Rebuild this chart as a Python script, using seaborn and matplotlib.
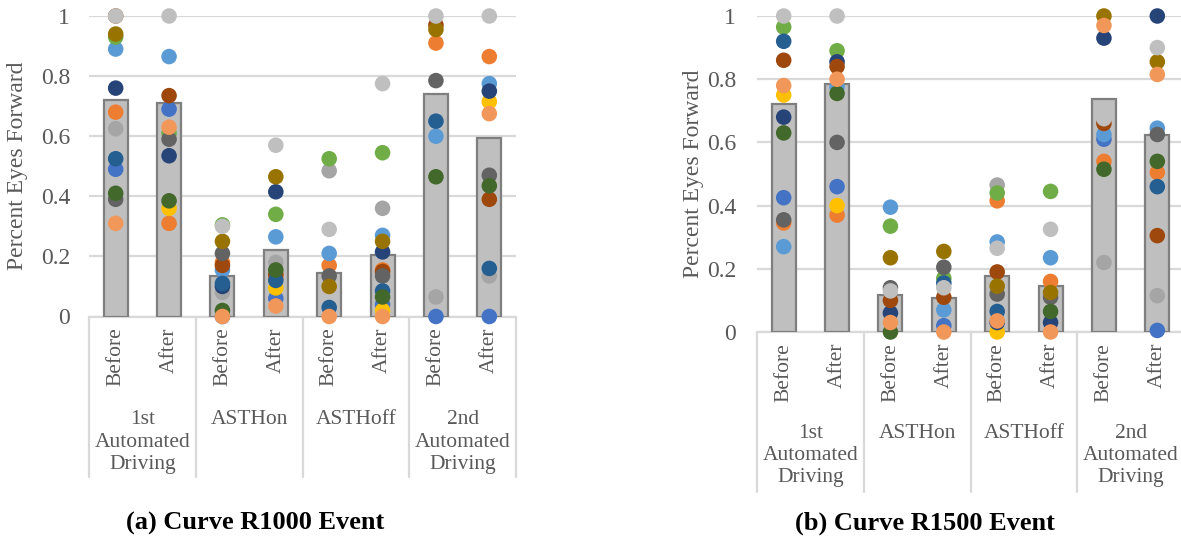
import numpy as np
import pandas as pd
import matplotlib
matplotlib.use("Agg")
import matplotlib.pyplot as plt
import matplotlib.transforms as mtransforms
from matplotlib.lines import Line2D
import seaborn as sns

sns.set_theme(style="white")
plt.rcParams['font.family'] = ['Liberation Serif', 'DejaVu Serif']

nan = np.nan

# ---------------- data ----------------
categories = ["1st_Before", "1st_After", "ASTHon_Before", "ASTHon_After",
              "ASTHoff_Before", "ASTHoff_After", "2nd_Before", "2nd_After"]
phase_labels = ["Before", "After"] * 4
group_labels = ["1st\nAutomated\nDriving", "ASTHon", "ASTHoff", "2nd\nAutomated\nDriving"]

participants = ["P01", "P02", "P03", "P04", "P05", "P06", "P07",
                "P08", "P09", "P10", "P11", "P12", "P13", "P14"]
participant_colors = ["#4472C4", "#ED7D31", "#A5A5A5", "#FFC000", "#5B9BD5", "#70AD47", "#264478",
                      "#9E480E", "#636363", "#997300", "#255E91", "#43682B", "#F1975A", "#BFBFBF"]

# (a) Curve R1000 event: mean bars and individual participants
r1000_bars = [0.72, 0.71, 0.135, 0.22, 0.145, 0.205, 0.74, 0.595]
r1000_1st_before = [0.49, 0.68, 0.625, nan, 0.89, 0.93, 0.76, 1.0, 0.39, 0.94, 0.525, 0.41, 0.31, 1.0]
r1000_1st_after = [0.69, 0.31, nan, 0.36, 0.865, 0.61, 0.535, 0.735, 0.59, nan, nan, 0.385, 0.63, 1.0]
r1000_on_before = [0.0, 0.18, 0.08, nan, 0.155, 0.305, 0.10, 0.17, 0.21, 0.25, 0.11, 0.02, 0.0, 0.30]
r1000_on_after = [0.06, 0.13, 0.18, 0.095, 0.265, 0.34, 0.415, 0.14, nan, 0.465, 0.12, 0.155, 0.035, 0.57]
r1000_off_before = [nan, 0.17, 0.485, nan, 0.21, 0.525, nan, nan, 0.135, 0.10, 0.03, nan, 0.0, 0.29]
r1000_off_after = [0.04, 0.155, 0.36, 0.02, 0.27, 0.545, 0.215, 0.15, 0.135, 0.25, 0.085, 0.065, 0.0, 0.775]
r1000_2nd_before = [0.0, 0.91, 0.065, nan, 0.60, nan, nan, 0.97, 0.785, 0.955, 0.65, 0.465, nan, 1.0]
r1000_2nd_after = [0.0, 0.865, 0.135, 0.715, 0.775, nan, 0.75, 0.39, 0.47, nan, 0.16, 0.435, 0.675, 1.0]

# (b) Curve R1500 event
r1500_bars = [0.72, 0.785, 0.117, 0.107, 0.177, 0.146, 0.737, 0.623]
r1500_1st_before = [0.425, 0.345, nan, 0.75, 0.27, 0.965, 0.68, 0.86, 0.355, nan, 0.92, 0.63, 0.78, 1.0]
r1500_1st_after = [0.46, 0.37, nan, 0.40, 0.775, 0.89, 0.855, 0.84, 0.60, nan, nan, 0.755, 0.80, 1.0]
r1500_on_before = [nan, nan, nan, nan, 0.395, 0.335, 0.06, 0.10, 0.14, 0.235, nan, 0.0, 0.03, 0.13]
r1500_on_after = [0.02, nan, nan, nan, 0.07, 0.17, nan, 0.11, 0.205, 0.255, 0.155, nan, 0.0, 0.14]
r1500_off_before = [nan, 0.415, 0.465, 0.0, 0.285, 0.44, 0.03, 0.19, 0.12, 0.145, 0.065, nan, 0.035, 0.265]
r1500_off_after = [nan, 0.16, nan, nan, 0.235, 0.445, 0.03, nan, 0.11, 0.125, nan, 0.065, 0.0, 0.325]
r1500_2nd_before = [0.61, 0.54, 0.22, nan, 0.625, nan, 0.93, 0.66, nan, 1.0, nan, 0.515, 0.97, 0.675]
r1500_2nd_after = [0.005, 0.505, 0.115, nan, 0.645, nan, 1.0, 0.305, 0.625, 0.855, 0.46, 0.54, 0.815, 0.90]

yticks = [0, 0.2, 0.4, 0.6, 0.8, 1.0]
ytick_labels = ["0", "0.2", "0.4", "0.6", "0.8", "1"]

# ---------------- figure ----------------
W, H = 1181, 542
fig = plt.figure(figsize=(W / 100, H / 100), dpi=100)
TXT = "#595959"
GRID = "#D9D9D9"


def add_axes_px(x0, x1, ytop, ybot):
    return fig.add_axes([x0 / W, 1 - ybot / H, (x1 - x0) / W, (ybot - ytop) / H])


def long_points(arrays):
    rows = []
    for cat, vals in zip(categories, arrays):
        for p, v in zip(participants, vals):
            if not np.isnan(v):
                rows.append({"cat": cat, "participant": p, "value": v})
    return pd.DataFrame(rows)


def draw_panel(ax, bars, arrays, ax_h_px, tick_pad_pt, ylabel_x, label_gap, group_gap):
    df_bar = pd.DataFrame({"cat": categories, "value": bars})
    sns.barplot(data=df_bar, x="cat", y="value", order=categories, color="#BFBFBF",
                saturation=1, edgecolor="#7F7F7F", linewidth=1.6, width=0.45,
                ax=ax, zorder=2)
    df_pts = long_points(arrays)
    sns.stripplot(data=df_pts, x="cat", y="value", order=categories, hue="participant",
                  hue_order=participants, palette=participant_colors, jitter=False,
                  dodge=False, size=11.2, linewidth=0, legend=False, ax=ax,
                  clip_on=False, zorder=3)
    ax.set_xlim(-0.5, 7.5)
    ax.set_ylim(0, 1)
    ax.set_yticks(yticks)
    ax.set_yticklabels(ytick_labels)
    ax.tick_params(axis="y", length=0, pad=tick_pad_pt, labelsize=17, labelcolor=TXT)
    ax.set_xticks([])
    ax.set_xlabel("")
    ax.set_ylabel("Percent Eyes Forward", fontsize=17, color=TXT)
    ax.yaxis.set_label_coords(ylabel_x, 0.5)
    ax.grid(axis="y", color=GRID, linewidth=1.6)
    ax.grid(axis="x", visible=False)
    ax.set_axisbelow(True)
    for s in ax.spines.values():
        s.set_visible(False)

    trans = mtransforms.blended_transform_factory(ax.transData, ax.transAxes)
    depth = 160 / ax_h_px
    ax.add_line(Line2D([-0.5, 7.5], [0, 0], transform=trans, color=GRID, lw=1.6,
                       clip_on=False, zorder=1))
    for xb in [-0.5, 1.5, 3.5, 5.5, 7.5]:
        ax.add_line(Line2D([xb, xb], [0, -depth], transform=trans, color=GRID, lw=1.6,
                           clip_on=False))
    for i, lab in enumerate(phase_labels):
        ax.annotate(lab, xy=(i, 0), xycoords=trans, xytext=(0, -label_gap * 0.72),
                    textcoords="offset points", rotation=90, ha="center", va="top",
                    fontsize=15.5, color=TXT)
    for g, lab in enumerate(group_labels):
        ax.annotate(lab, xy=(2 * g + 0.5, 0), xycoords=trans, xytext=(0, -group_gap * 0.72),
                    textcoords="offset points", ha="center", va="top", multialignment="center",
                    linespacing=1.22, fontsize=15.5, color=TXT)


axL = add_axes_px(89, 516, 16, 316.5)
draw_panel(axL,
           r1000_bars,
           [r1000_1st_before, r1000_1st_after, r1000_on_before, r1000_on_after,
            r1000_off_before, r1000_off_after, r1000_2nd_before, r1000_2nd_after],
           300.5, 13.5, -0.143, 11, 94)

axR = add_axes_px(757, 1184, 16, 332)
draw_panel(axR,
           r1500_bars,
           [r1500_1st_before, r1500_1st_after, r1500_on_before, r1500_on_after,
            r1500_off_before, r1500_off_after, r1500_2nd_before, r1500_2nd_after],
           316, 15, -0.124, 11, 92)

fig.text(255 / W, 1 - 523 / H, "(a) Curve R1000 Event", ha="center", va="center",
         fontsize=19, fontweight="bold", color="black")
fig.text(925 / W, 1 - 523 / H, "(b) Curve R1500 Event", ha="center", va="center",
         fontsize=19, fontweight="bold", color="black")

fig.savefig("out.png", dpi=100)
